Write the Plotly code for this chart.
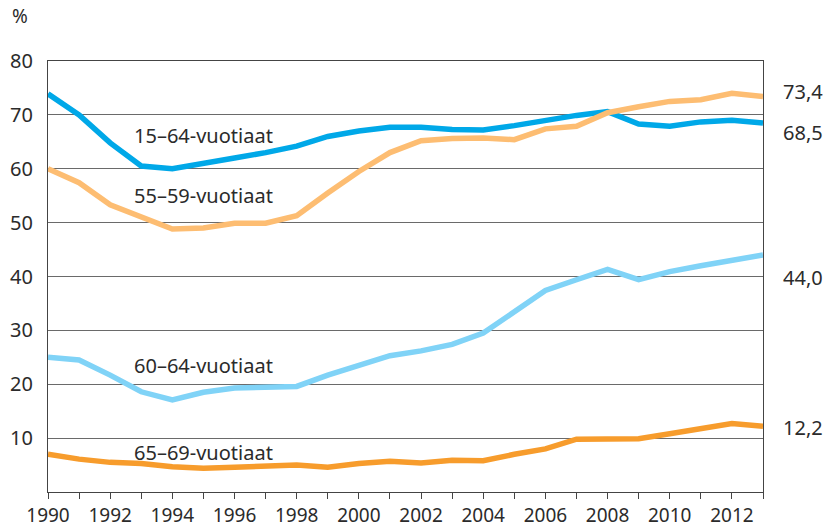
import plotly.graph_objects as go

years = list(range(1990, 2014))
age_15_64 = [73.9, 70.0, 64.8, 60.5, 60.0, 61.1, 62.0, 63.0, 64.2, 66.0, 67.0, 67.7, 67.7, 67.3, 67.2, 68.0, 69.0, 69.9, 70.6, 68.3, 67.9, 68.7, 69.0, 68.5]
age_55_59 = [60.0, 57.4, 53.3, 51.1, 48.8, 49.0, 49.9, 49.9, 51.3, 55.5, 59.5, 63.0, 65.2, 65.6, 65.7, 65.4, 67.4, 67.9, 70.4, 71.5, 72.5, 72.8, 74.0, 73.4]
age_60_64 = [25.0, 24.5, 21.7, 18.6, 17.1, 18.5, 19.3, 19.4, 19.6, 21.7, 23.5, 25.3, 26.2, 27.4, 29.5, 33.6, 37.4, 39.4, 41.3, 39.4, 40.9, 42.0, 43.1, 44.0]
age_65_69 = [7.0, 6.1, 5.5, 5.3, 4.7, 4.4, 4.6, 4.9, 5.0, 4.6, 5.3, 5.7, 5.4, 5.9, 5.8, 7.0, 8.0, 9.8, 9.9, 9.9, 10.8, 11.8, 12.7, 12.2]

series_names = ["15–64-vuotiaat", "55–59-vuotiaat", "60–64-vuotiaat", "65–69-vuotiaat"]
series_values = [age_15_64, age_55_59, age_60_64, age_65_69]
colors = ["#00a8e8", "#fdbd72", "#80d3f7", "#f79c2c"]
label_pos = [(1995, 66.1), (1995, 55.0), (1995, 23.4), (1995, 7.4)]
end_labels = ["68,5", "73,4", "44,0", "12,2"]
end_label_y = [66.7, 74.4, 39.9, 11.9]

y_ticks = [10, 20, 30, 40, 50, 60, 70, 80]
x_ticks = list(range(1990, 2013, 2))

FONT = "Noto Sans"
TXT = "#2b2b2b"
FS = 20

fig = go.Figure()
for name, vals, col in zip(series_names, series_values, colors):
    fig.add_trace(go.Scatter(x=years, y=vals, mode="lines", name=name,
                             line=dict(color=col, width=5.5), showlegend=False))

annotations = []
for name, (lx, ly) in zip(series_names, label_pos):
    annotations.append(dict(x=lx, y=ly, xref="x", yref="y", text=name, showarrow=False,
                            font=dict(family=FONT, size=FS, color=TXT), xanchor="center", yanchor="middle"))
for t, ly in zip(end_labels, end_label_y):
    annotations.append(dict(x=1, y=ly, xref="paper", yref="y", text=t, showarrow=False, xshift=18,
                            font=dict(family=FONT, size=FS, color=TXT), xanchor="left", yanchor="middle"))
annotations.append(dict(x=0, y=1, xref="paper", yref="paper", text="%", showarrow=False,
                        xshift=-38, yshift=30, font=dict(family=FONT, size=FS - 1, color=TXT),
                        xanchor="left", yanchor="bottom"))

fig.update_layout(
    width=832, height=528,
    margin=dict(l=48, r=69, t=61, b=36, autoexpand=False),
    paper_bgcolor="white", plot_bgcolor="white",
    font=dict(family=FONT, size=FS, color=TXT),
    annotations=annotations,
    xaxis=dict(range=[1990, 2013], tickvals=x_ticks, ticks="outside", ticklen=6, tickcolor="#444",
               showgrid=False, showline=True, linecolor="#444", linewidth=1.2, mirror=True,
               zeroline=False, automargin=False, tickfont=dict(family=FONT, size=19, color=TXT),
               ticklabelstandoff=0,
               minor=dict(dtick=1, tick0=1990, ticks="outside", ticklen=6, tickcolor="#444", showgrid=False)),
    yaxis=dict(range=[0, 80], tickvals=y_ticks, ticks="", showgrid=True, gridcolor="#6a6a6a", gridwidth=1,
               showline=True, linecolor="#444", linewidth=1.2, mirror=True, zeroline=False, automargin=False,
               tickfont=dict(family=FONT, size=FS, color=TXT), ticklabelstandoff=10),
)

fig.write_html("out.html", config={"displayModeBar": False},
               post_script="document.body.style.margin='0';document.body.style.padding='0';")
